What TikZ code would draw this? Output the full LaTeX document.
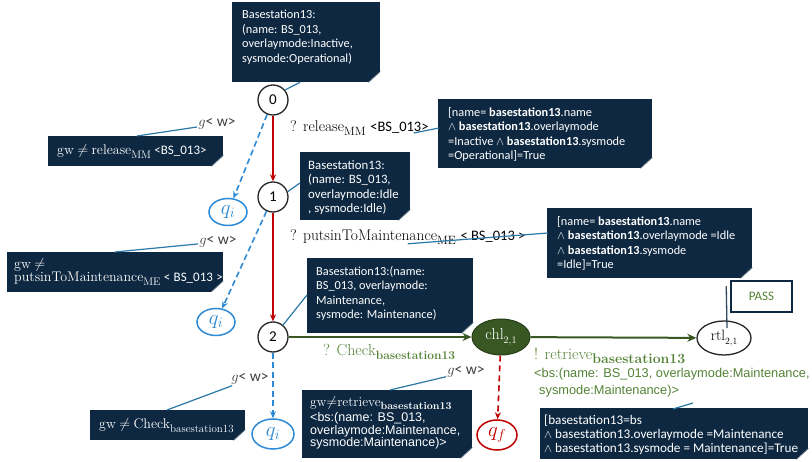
\documentclass[tikz,border=0pt]{standalone}
\usepackage{amsmath}
\usepackage{fontspec}
\usetikzlibrary{calc,shapes.geometric,arrows.meta}
\newfontfamily\calf{Carlito}
\newfontfamily\arf{Liberation Sans}
\definecolor{navy}{HTML}{0E2841}
\definecolor{clinec}{HTML}{2A78A6}
\definecolor{redc}{HTML}{C00000}
\definecolor{bluec}{HTML}{2E8AD4}
\definecolor{dgreen}{HTML}{385723}
\definecolor{lgreen}{HTML}{548235}
\definecolor{gtxt}{HTML}{404040}
\newcommand\cbx[4][12.3]{\parbox[t][#3][t]{#2}{\fontsize{#1}{14.5}\selectfont\raggedright #4}}
\newcommand\sbs[2]{\raisebox{-0.28em}{\fontsize{#1}{#1}\selectfont #2}}
\newcommand\fold[1]{%
  \fill[white] ($(#1.south east)+(-12,0.5)$) -- ($(#1.south east)+(0.5,0.5)$) -- ($(#1.south east)+(0.5,-11)$) -- cycle;
  \draw[navy!55!white, line width=0.6pt] ($(#1.south east)+(-12,0)$) -- ($(#1.south east)+(0,-11)$);}
\begin{document}
\begin{tikzpicture}[x=1pt,y=-1pt,
  callout/.style={anchor=north west, fill=navy, text=white, inner xsep=10pt, inner ysep=8pt, font=\calf, align=left},
  state/.style={circle, draw=black!85, line width=1.3pt, minimum size=30pt, inner sep=0pt, fill=white, font=\calf\fontsize{15}{16}\selectfont},
  qnode/.style={ellipse, draw=bluec, line width=1.5pt, minimum width=38pt, minimum height=27pt, inner sep=0pt, text=bluec, fill=white, font=\fontsize{20}{21}\selectfont},
  redarr/.style={draw=redc, line width=1.3pt, -{Stealth[length=7pt,width=6pt]}},
  bluedash/.style={draw=bluec, line width=1.6pt, dash pattern=on 6pt off 3.5pt, -{Stealth[length=7pt,width=6pt]}},
  reddash/.style={draw=redc, line width=1.6pt, dash pattern=on 6pt off 4pt, -{Stealth[length=7pt,width=6pt]}},
  greenarr/.style={draw=dgreen, line width=2pt, -{Stealth[length=9pt,width=8pt]}},
  cline/.style={draw=clinec, line width=1.2pt},
  glab/.style={text=gtxt, inner sep=1pt, font=\calf\fontsize{15.5}{16}\selectfont},
  slab/.style={anchor=west, inner sep=1pt, font=\fontsize{15.5}{17}\selectfont}
]
\useasboundingbox (0,0) rectangle (812,462);

% callouts
\node[callout] (cA) at (232,2) {\cbx{128pt}{64pt}{Basestation13:\\(name: BS\_013,\\overlaymode:Inactive,\\sysmode:Operational)}};
\node[callout] (cB) at (438,99) {\cbx{194pt}{53pt}{[name= \textbf{basestation13}.name\\$\wedge$ \textbf{basestation13}.overlaymode\\=Inactive $\wedge$ \textbf{basestation13}.sysmode\\=Operational]=True}};
\node[callout, inner xsep=8pt] (cD) at (300,152) {\cbx[12.8]{94pt}{52pt}{Basestation13:\\(name: BS\_013,\\overlaymode:Idle\\, sysmode:Idle)}};
\node[callout] (cF) at (547,208) {\cbx{185pt}{54pt}{[name= \textbf{basestation13}.name\\$\wedge$ \textbf{basestation13}.overlaymode =Idle\\$\wedge$ \textbf{basestation13}.sysmode\\=Idle]=True}};
\node[callout, inner xsep=9pt] (cE) at (307,258) {\cbx{148pt}{59pt}{Basestation13:(name:\\BS\_013, overlaymode:\\Maintenance,\\sysmode: Maintenance)}};
\node[callout, inner xsep=8pt, inner ysep=6pt] (cH) at (302,390) {\parbox[t][56pt][t]{154pt}{\raggedright{\rmfamily\fontsize{13.5}{14}\selectfont gw$\neq$retrieve\sbs{10.5}{\bfseries basestation13}}\\[1.5pt]{\arf\fontsize{12.5}{13.6}\selectfont <bs:(name: BS\_013,\\overlaymode:Maintenance,\\sysmode:Maintenance)>}}};
\node[callout, inner xsep=4pt, inner ysep=6.5pt] (cJ) at (540,408) {\parbox[t][38pt][t]{260pt}{\fontsize{13.2}{14}\selectfont\raggedright [basestation13=bs\\$\wedge$ basestation13.overlaymode =Maintenance\\$\wedge$ basestation13.sysmode = Maintenance]=True}};
\node[callout, text width=157pt, inner xsep=9pt, inner ysep=8pt] (cC) at (48,136) {{\rmfamily\fontsize{14}{15}\selectfont gw $\neq$ release\sbs{11}{MM}} {\calf\fontsize{13}{14}\selectfont <BS\_013>}};
\node[callout, text width=202pt, inner xsep=7pt, inner ysep=6pt] (cG) at (7,252) {\rmfamily\fontsize{14}{15}\selectfont gw $\neq$\\\mbox{putsinToMaintenance\sbs{11}{ME} {\calf\fontsize{13}{14}\selectfont < BS\_013 >}}};
\node[callout, text width=137pt, inner xsep=9pt, inner ysep=8pt] (cI) at (90,410) {\rmfamily\fontsize{14}{15}\selectfont gw $\neq$ Check\sbs{11}{basestation13}};
\foreach \c in {cA,cB,cD,cF,cE,cH,cJ,cC,cG,cI} {\fold{\c}}

% states
\node[state] (n0) at (273,100) {0};
\node[state] (n1) at (273,197) {1};
\node[state] (n2) at (273,337) {2};
\node[qnode] (qi1) at (228,212) {$q_i$};
\node[qnode] (qi2) at (216,322) {$q_i$};
\node[qnode, minimum width=42pt, minimum height=30pt] (qi3) at (273,434) {$q_i$};
\node[ellipse, fill=dgreen, draw=dgreen!70!black, line width=1pt, minimum width=58pt, minimum height=36pt, inner sep=0pt, text=white, font=\fontsize{16}{17}\selectfont] (chl) at (501,337) {chl\sbs{10}{2,1}};
\node[ellipse, draw=black!85, line width=1.3pt, fill=white, minimum width=54pt, minimum height=34pt, inner sep=0pt, font=\fontsize{15}{16}\selectfont] (rtl) at (724,338) {rtl\sbs{9.5}{2,1}};
\node[ellipse, draw=redc, line width=1.5pt, fill=white, minimum width=40pt, minimum height=30pt, inner sep=0pt, text=redc, font=\fontsize{20}{21}\selectfont] (qf) at (497,435) {$q_f$};
\node[draw=navy, line width=1.5pt, minimum width=61pt, minimum height=31pt, text=lgreen, font=\calf\fontsize{13}{14}\selectfont] (pass) at (761.5,296.5) {PASS};

% transitions
\draw[redarr] (n0) -- (n1);
\draw[redarr] (n1) -- (n2);
\draw[bluedash] (n0) -- (qi1);
\draw[bluedash] (n1) -- (qi2);
\draw[bluedash] (n2) -- (qi3);
\draw[greenarr] (n2) -- (chl);
\draw[greenarr] (chl) -- (rtl);
\draw[reddash] (chl) -- (qf);

% labels
\node[slab] (lrel) at (289,128) {? release\sbs{12}{MM} {\calf\fontsize{14.5}{16}\selectfont <BS\_013>}};
\node[slab] (lput) at (289,237) {? putsinToMaintenance\sbs{12}{ME} {\calf\fontsize{14.5}{16}\selectfont < BS\_013 >}};
\node[slab, text=lgreen, font=\fontsize{16}{17}\selectfont] (lchk) at (322,352) {? Check\sbs{12}{\bfseries basestation13}};
\node[slab, text=lgreen, font=\fontsize{16}{17}\selectfont] (lret) at (533,356) {! retrieve\sbs{14}{\bfseries basestation13}};
\node[slab, text=lgreen, font=\arf\fontsize{12.8}{14}\selectfont] (lbs1) at (533,374) {<bs:(name: BS\_013, overlaymode:Maintenance,};
\node[slab, text=lgreen, font=\arf\fontsize{12.8}{14}\selectfont] (lbs2) at (538,391) {sysmode:Maintenance)>};
\node[glab] (g1) at (217,124) {$g$< w>};
\node[glab] (g2) at (218,242) {$g$< w>};
\node[glab] (g3) at (250,379) {$g$< w>};
\node[glab] (g4) at (466,372) {$g$< w>};

% callout connectors
\coordinate (aA) at ($(cA.south west)+(68,0)$);
\draw[cline] (n0.40) -- (aA);
\coordinate (aB1) at ($(lrel.east)+(-16,5)$);
\coordinate (aB2) at ($(cB.north west)+(1,29)$);
\draw[cline] (aB1) -- (aB2);
\coordinate (aC) at ($(cC.north west)+(89,0)$);
\draw[cline] (aC) -- (g1);
\coordinate (aD) at ($(cD.north west)+(0,31)$);
\draw[cline] (n1.20) -- (aD);
\coordinate (aF1) at ($(lput.south)+(0,-2)$);
\coordinate (aF2) at ($(cF.north west)+(1,25)$);
\draw[cline] (aF1) -- (aF2);
\coordinate (aG) at ($(cG.north west)+(108,0)$);
\draw[cline] (aG) -- (g2);
\coordinate (aE) at ($(cE.north west)+(0,37)$);
\draw[cline] (n2.50) -- (aE);
\coordinate (aI) at ($(cI.north west)+(77,0)$);
\draw[cline] (aI) -- (g3);
\coordinate (aH) at ($(cH.north west)+(88,0)$);
\draw[cline] (aH) -- (g4);
\coordinate (aJ1) at ($(cJ.north west)+(133,1)$);
\coordinate (aJ2) at ($(cJ.north west)+(153,-5)$);
\draw[cline] (aJ1) -- (aJ2);
\coordinate (aP1) at ($(pass.north west)+(-4,6)$);
\coordinate (aP2) at ($(rtl.center)+(3,-10)$);
\draw[draw=navy!85, line width=1.3pt] (aP1) -- (aP2);
\end{tikzpicture}
\end{document}
